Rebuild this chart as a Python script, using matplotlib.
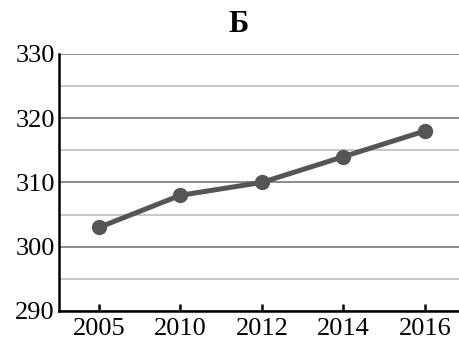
import matplotlib.pyplot as plt
import numpy as np

# values
years = ['2005', '2010', '2012', '2014', '2016']
values = [303, 308, 310, 314, 318]

plt.rcParams['font.family'] = ['Liberation Serif', 'DejaVu Serif']

fig = plt.figure(figsize=(4.59, 3.41), dpi=100)
ax = fig.add_axes([0.1285, 0.088, 0.8715, 0.754])

x = np.arange(len(years))
ax.plot(x, values, color='#555555', linewidth=3.6, marker='o', markersize=10,
        solid_capstyle='round', zorder=3)

ax.set_ylim(290, 330)
ax.set_xlim(-0.49, 4.42)
ax.set_yticks([290, 300, 310, 320, 330])
ax.set_yticks([295, 305, 315, 325], minor=True)
ax.set_xticks(x)
ax.set_xticklabels(years)

ax.grid(True, which='major', axis='y', color='#8a8a8a', linewidth=1.4)
ax.grid(True, which='minor', axis='y', color='#bdbdbd', linewidth=1.2)
ax.set_axisbelow(True)

for side in ['top', 'right']:
    ax.spines[side].set_visible(False)
ax.spines['left'].set_linewidth(1.8)
ax.spines['bottom'].set_linewidth(1.8)

ax.tick_params(axis='y', which='both', length=0, labelsize=19, pad=3)
ax.tick_params(axis='x', direction='in', length=5, width=1.8, labelsize=19, pad=5)

fig.text(0.52, 0.927, 'Б', ha='center', va='center', fontsize=22, fontweight='bold')

fig.savefig('out.png', dpi=100)
